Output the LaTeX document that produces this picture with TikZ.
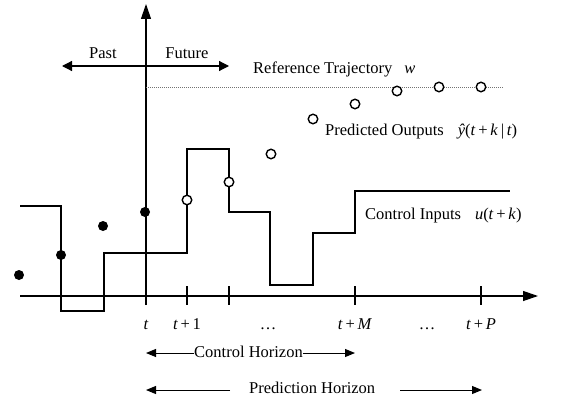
\documentclass[tikz,border=0pt]{standalone}
\usepackage{fontspec}
\setmainfont{Liberation Serif}
\usetikzlibrary{arrows.meta}
\newcommand{\vi}[1]{\textit{#1}}
\begin{document}
\begin{tikzpicture}[x=1pt,y=-1pt,
  axisline/.style={line width=1.2pt},
  thinline/.style={line width=1.2pt},
  thickline/.style={line width=2.8pt},
  bigtip/.style={-{Triangle[length=15pt,width=10pt]}},
  midtip/.style={{Triangle[length=10pt,width=10pt]}-{Triangle[length=10pt,width=10pt]}},
  smalltip/.style={-{Triangle[length=10pt,width=8pt]}},
  lbl/.style={font=\fontsize{16.5}{18}\selectfont, inner sep=0pt},
  opendot/.style={circle, draw, line width=1.4pt, fill=white, minimum size=9.5pt, inner sep=0pt},
  filldot/.style={circle, fill, minimum size=10pt, inner sep=0pt},
  reftraj/.style={black!55, line width=0.9pt, dash pattern=on 1pt off 1pt}]
\useasboundingbox (0,0) rectangle (561,396);

% axes
\coordinate (vbot) at (146,305);
\coordinate (vtop) at (146,4);
\coordinate (hl) at (20,296);
\coordinate (hr) at (538,296);
\draw[axisline, bigtip] (vbot) -- (vtop);
\draw[axisline, bigtip] (hl) -- (hr);
\foreach \x in {187,229,355,481}
  \draw[axisline] (\x,286) -- (\x,305);

% past / future
\coordinate (pl) at (62,66);
\coordinate (pr) at (229,66);
\draw[line width=1.2pt, midtip] (pl) -- (pr);
\node[lbl, anchor=base] (past) at (103,59) {Past};
\node[lbl, anchor=base] (future) at (187,59) {Future};

% reference trajectory
\coordinate (rl) at (146,87);
\coordinate (rr) at (504,87);
\draw[reftraj] (rl) -- (rr);
\node[lbl, anchor=base west] (reflbl) at (253,73) {Reference Trajectory\hspace{12pt}\vi{w}};

% control inputs (past, thick)
\draw[thickline] (20,206) -- (61,206) -- (61,311) -- (104,311) -- (104,253) -- (146,253);
% control inputs (future, thin)
\draw[thinline] (146,253) -- (187,253) -- (187,149) -- (229,149) -- (229,212) -- (270,212)
  -- (270,285) -- (313,285) -- (313,233) -- (355,233) -- (355,191) -- (510,191);
\node[lbl, anchor=base west] (culbl) at (365,219) {Control Inputs\hspace{14pt}\vi{u}(\vi{t}\,+\,\vi{k})};

% measured outputs
\node[filldot] (m1) at (19,275) {};
\node[filldot] (m2) at (61,255) {};
\node[filldot] (m3) at (103,226) {};
\node[filldot] (m4) at (145,212) {};

% predicted outputs
\node[opendot] (p1) at (187,200) {};
\node[opendot] (p2) at (229,182) {};
\node[opendot] (p3) at (271,154) {};
\node[opendot] (p4) at (313,119) {};
\node[opendot] (p5) at (355,104) {};
\node[opendot] (p6) at (397,91) {};
\node[opendot] (p7) at (439,87) {};
\node[opendot] (p8) at (481,87) {};
\node[lbl, anchor=base west] (polbl) at (325,135) {Predicted Outputs\hspace{14pt}\vi{ŷ}(\vi{t}\,+\,\vi{k}\,|\,\vi{t})};

% tick labels
\node[lbl, anchor=base] (tk0) at (146,329) {\vi{t}};
\node[lbl, anchor=base] (tk1) at (187,329) {\vi{t}\,+\,1};
\node[lbl, anchor=base] (tk2) at (268,329) {\dots};
\node[lbl, anchor=base] (tk3) at (355,329) {\vi{t}\,+\,\vi{M}};
\node[lbl, anchor=base] (tk4) at (427,329) {\dots};
\node[lbl, anchor=base] (tk5) at (481,329) {\vi{t}\,+\,\vi{P}};

% control horizon
\node[lbl, anchor=base west] (chl) at (194,357) {Control Horizon};
\coordinate (chA) at (146,353);
\coordinate (chB) at (355,353);
\draw[line width=1pt, smalltip] (chl.west |- chA) -- (chA);
\draw[line width=1pt, smalltip] (chl.east |- chB) -- (chB);

% prediction horizon
\node[lbl, anchor=base west] (phl) at (249,393) {Prediction Horizon};
\coordinate (phA) at (146,390);
\coordinate (phA2) at (230,390);
\coordinate (phB1) at (400,390);
\coordinate (phB) at (482,390);
\draw[line width=1pt, smalltip] (phA2) -- (phA);
\draw[line width=1pt, smalltip] (phB1) -- (phB);
\end{tikzpicture}
\end{document}
